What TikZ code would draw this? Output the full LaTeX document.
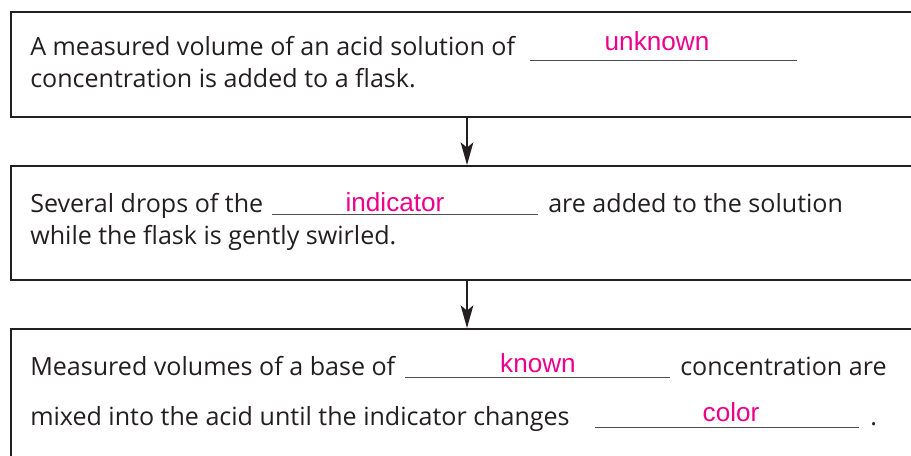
\documentclass[tikz,border=0pt]{standalone}
\usepackage{fontspec}
\setmainfont{Open Sans}
\newfontfamily\fillfont{Liberation Sans}
\usetikzlibrary{arrows.meta}
\definecolor{inkgray}{RGB}{35,31,32}
\definecolor{fillpink}{RGB}{236,0,140}
\tikzset{
  stepbox/.style={draw=inkgray,line width=1.6pt},
  flow/.style={draw=inkgray,line width=1.3pt,-{Stealth[length=17pt,width=9.5pt,inset=4pt]}},
  blank/.style={draw=inkgray!80,line width=0.7pt},
  txt/.style={anchor=base west,inner sep=0pt,text=inkgray,font=\fontsize{18.8}{22}\selectfont},
  ans/.style={anchor=base,inner sep=0pt,text=fillpink,font=\fillfont\fontsize{19.6}{22}\selectfont}
}
\begin{document}
\begin{tikzpicture}[x=0.75pt,y=0.75pt,yscale=-1,xscale=1]
\useasboundingbox (0,0) rectangle (911,456);
\clip (0,0) rectangle (911,456);

%Boxes
\node [stepbox,anchor=north west,minimum width=693.75pt,minimum height=78.75pt] (box1) at (10,11) {};
\node [stepbox,anchor=north west,minimum width=693.75pt,minimum height=85.5pt] (box2) at (10,165) {};
\node [stepbox,anchor=north west,minimum width=693.75pt,minimum height=114pt] (box3) at (10,328) {};
\coordinate (ax) at (467,0);

%Arrows
\draw [flow] (box1.south -| ax) -- (box2.north -| ax);
\draw [flow] (box2.south -| ax) -- (box3.north -| ax);

%Blanks
\draw [blank] (530,60) -- (797,60);
\draw [blank] (272,214) -- (538,214);
\draw [blank] (405,377) -- (670,377);
\draw [blank] (595,427) -- (859,427);

% Text Node
\node [txt] (t1a) at (30,56) {A measured volume of an acid solution of};
\node [txt] (t1b) at (30,88) {concentration is added to a flask.};
\node [ans] (a1) at (657,51) {unknown};
% Text Node
\node [txt] (t2a) at (30,213) {Several drops of the};
\node [txt] (t2b) at (548,213) {are added to the solution};
\node [txt] (t2c) at (30,245) {while the flask is gently swirled.};
\node [ans] (a2) at (395,212) {indicator};
% Text Node
\node [txt] (t3a) at (30,375) {Measured volumes of a base of};
\node [txt] (t3b) at (680,375) {concentration are};
\node [txt] (t3c) at (30,425) {mixed into the acid until the indicator changes};
\node [txt] (t3d) at (870,425) {.};
\node [ans] (a3) at (538,372) {known};
\node [ans] (a4) at (731,421) {color};

\end{tikzpicture}
\end{document}
